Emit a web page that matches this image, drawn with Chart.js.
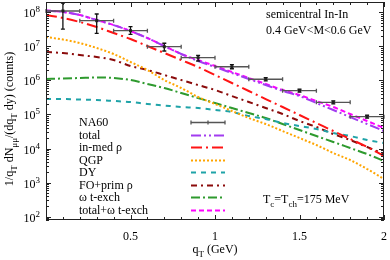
<!DOCTYPE html>
<html>
<head>
<meta charset="utf-8">
<script src="https://cdn.jsdelivr.net/npm/chart.js@4/dist/chart.umd.min.js"></script>
<style>
  html, body { margin: 0; padding: 0; background: #fff; }
</style>
</head>
<body>
<canvas id="qtChart" width="390" height="260"></canvas>
<script>
const FONT = '"Liberation Serif", "DejaVu Serif", serif';

const qT = [0, 0.1, 0.2, 0.3, 0.4, 0.5, 0.6, 0.7, 0.8, 0.9, 1.0, 1.1, 1.2, 1.3, 1.4, 1.5, 1.6, 1.7, 1.8, 1.9, 2.0];

const total = [1.13e8, 1.02e8, 8.3e7, 5.9e7, 4.2e7, 2.8e7, 1.75e7, 1.02e7, 5.95e6, 3.71e6, 2.47e6, 1.65e6, 1.10e6, 7.3e5, 4.9e5, 3.48e5, 2.17e5, 1.35e5, 8.4e4, 5.25e4, 3.27e4];
const inMedRho = [8.31e7, 6.78e7, 5.18e7, 3.69e7, 2.46e7, 1.64e7, 1.02e7, 6.37e6, 3.97e6, 2.47e6, 1.44e6, 8.39e5, 4.88e5, 2.84e5, 1.656e5, 9.65e4, 5.62e4, 3.27e4, 1.91e4, 1.11e4, 6.04e3];
const qgp = [1.878e7, 1.586e7, 1.252e7, 8.93e6, 5.95e6, 3.47e6, 2.02e6, 1.027e6, 5.98e5, 3.26e5, 2.03e5, 1.264e5, 7.88e4, 5.25e4, 3.27e4, 2.04e4, 1.27e4, 7.40e3, 4.61e3, 2.51e3, 1.276e3];
const drellYan = [2.84e5, 2.84e5, 2.75e5, 2.66e5, 2.49e5, 2.32e5, 2.03e5, 1.833e5, 1.656e5, 1.548e5, 1.353e5, 1.182e5, 9.02e4, 7.36e4, 5.62e4, 4.59e4, 3.75e4, 2.86e4, 2.33e4, 1.78e4, 1.454e4];
const foPrimRho = [6.81e6, 6.37e6, 5.56e6, 4.86e6, 3.97e6, 2.65e6, 2.02e6, 1.44e6, 1.027e6, 7.32e5, 5.23e5, 3.48e5, 2.32e5, 1.548e5, 1.032e5, 6.43e4, 4.29e4, 2.67e4, 1.78e4, 1.109e4, 6.91e3];
const omegaTExch = [1.099e6, 1.137e6, 1.176e6, 1.216e6, 1.176e6, 1.027e6, 7.84e5, 5.98e5, 4.27e5, 3.04e5, 2.17e5, 1.548e5, 1.104e5, 7.88e4, 5.25e4, 3.50e4, 2.33e4, 1.556e4, 1.037e4, 6.91e3, 4.31e3];
const totalOmega = [1.13e8, 1.02e8, 8.3e7, 5.93e7, 4.23e7, 2.82e7, 1.755e7, 1.02e7, 5.95e6, 3.97e6, 2.65e6, 1.76e6, 1.176e6, 7.84e5, 5.23e5, 3.73e5, 2.49e5, 1.656e5, 1.032e5, 6.43e4, 4.01e4];

// NA60 data with error bars
const na60X = [0.1, 0.3, 0.5, 0.7, 0.9, 1.1, 1.3, 1.5, 1.7, 1.9];
const na60XErr = [0.1, 0.1, 0.1, 0.1, 0.1, 0.1, 0.1, 0.1, 0.1, 0.1];
const na60Y = [1.09e8, 5.65e7, 2.88e7, 9.75e6, 4.64e6, 2.52e6, 1.08e6, 4.99e5, 2.28e5, 8.6e4];
const na60Low = [3.2e7, 2.4e7, 2.25e7, 7.3e6, 3.71e6, 2.2e6, 9.7e5, 4.5e5, 2.05e5, 7.8e4];
const na60High = [1.86e8, 8.9e7, 3.77e7, 1.23e7, 5.46e6, 2.89e6, 1.2e6, 5.5e5, 2.5e5, 9.5e4];

const legendLabels = ["NA60", "total", "in-med ρ", "QGP", "DY", "FO+prim ρ", "ω t-exch", "total+ω t-exch"];

function pts(ys) {
  return qT.map((x, i) => ({ x: x, y: ys[i] }));
}

function curve(label, ys, color, dash) {
  return {
    type: "line",
    label: label,
    data: pts(ys),
    borderColor: color,
    borderWidth: 2,
    borderDash: dash,
    pointRadius: 0,
    fill: false,
    cubicInterpolationMode: "monotone"
  };
}

// text with sub/superscripts
function drawRich(ctx, parts, x, y, size, align) {
  const small = Math.round(size * 0.72);
  let w = 0;
  for (const [t, k] of parts) {
    ctx.font = (k === "n" ? size : small) + "px " + FONT;
    w += ctx.measureText(t).width;
  }
  let cx = align === "right" ? x - w : align === "center" ? x - w / 2 : x;
  ctx.textAlign = "left";
  ctx.textBaseline = "alphabetic";
  for (const [t, k] of parts) {
    ctx.font = (k === "n" ? size : small) + "px " + FONT;
    const dy = k === "sub" ? size * 0.3 : k === "sup" ? -size * 0.42 : 0;
    ctx.fillText(t, cx, y + dy);
    cx += ctx.measureText(t).width;
  }
}

const errorBars = {
  id: "errorBars",
  afterDatasetsDraw(chart) {
    const ctx = chart.ctx;
    const xs = chart.scales.x, ys = chart.scales.y;
    ctx.save();
    ctx.lineWidth = 1.3;
    for (let i = 0; i < na60X.length; i++) {
      const px = xs.getPixelForValue(na60X[i]);
      const x0 = xs.getPixelForValue(na60X[i] - na60XErr[i]);
      const x1 = xs.getPixelForValue(na60X[i] + na60XErr[i]);
      const py = ys.getPixelForValue(na60Y[i]);
      const y0 = ys.getPixelForValue(na60Low[i]);
      const y1 = ys.getPixelForValue(na60High[i]);
      ctx.strokeStyle = "#555";
      ctx.beginPath();
      ctx.moveTo(x0, py); ctx.lineTo(x1, py);
      ctx.moveTo(x0, py - 2); ctx.lineTo(x0, py + 2);
      ctx.moveTo(x1, py - 2); ctx.lineTo(x1, py + 2);
      ctx.stroke();
      ctx.strokeStyle = "#111";
      ctx.beginPath();
      ctx.moveTo(px, y0); ctx.lineTo(px, y1);
      ctx.moveTo(px - 2, y0); ctx.lineTo(px + 2, y0);
      ctx.moveTo(px - 2, y1); ctx.lineTo(px + 2, y1);
      ctx.stroke();
      ctx.fillStyle = "#222";
      ctx.fillRect(px - 1.5, py - 1.5, 3, 3);
    }
    ctx.restore();
  }
};

const frameAndText = {
  id: "frameAndText",
  afterDraw(chart) {
    const ctx = chart.ctx;
    const a = chart.chartArea;
    const xs = chart.scales.x, ys = chart.scales.y;
    ctx.save();
    ctx.strokeStyle = "#222";
    ctx.lineWidth = 1;
    ctx.setLineDash([]);
    ctx.strokeRect(Math.round(a.left) + 0.5, Math.round(a.top) + 0.5, Math.round(a.right - a.left) - 1, Math.round(a.bottom - a.top) - 1);

    // inward ticks
    ctx.beginPath();
    for (let k = 0; k <= 20; k++) {
      const v = k / 10;
      const px = Math.round(xs.getPixelForValue(v)) + 0.5;
      const len = k % 5 === 0 ? 5 : 3;
      ctx.moveTo(px, a.bottom); ctx.lineTo(px, a.bottom - len);
      ctx.moveTo(px, a.top); ctx.lineTo(px, a.top + len);
    }
    for (let e = 1; e <= 8; e++) {
      for (let m = 1; m <= 9; m++) {
        const v = m * Math.pow(10, e);
        if (v < ys.min || v > ys.max) continue;
        const py = Math.round(ys.getPixelForValue(v)) + 0.5;
        const len = m === 1 ? 5 : 3;
        ctx.moveTo(a.left, py); ctx.lineTo(a.left + len, py);
        ctx.moveTo(a.right, py); ctx.lineTo(a.right - len, py);
      }
    }
    ctx.stroke();

    ctx.fillStyle = "#000";
    // y tick labels
    for (let e = 2; e <= 8; e++) {
      const py = ys.getPixelForValue(Math.pow(10, e));
      drawRich(ctx, [["10", "n"], [String(e), "sup"]], a.left - 6, py + 5, 12, "right");
    }

    // axis titles
    drawRich(ctx, [["q", "n"], ["T", "sub"], [" (GeV)", "n"]], (a.left + a.right) / 2, 253, 12, "center");
    ctx.save();
    ctx.translate(13, 119);
    ctx.rotate(-Math.PI / 2);
    drawRich(ctx, [["1/q", "n"], ["T", "sub"], [" dN", "n"], ["μμ", "sub"], ["/(dq", "n"], ["T", "sub"], [" dy) (counts)", "n"]], 0, 0, 12, "center");
    ctx.restore();

    // annotations
    drawRich(ctx, [["semicentral In-In", "n"]], 266, 18, 12, "left");
    drawRich(ctx, [["0.4 GeV<M<0.6 GeV", "n"]], 266, 34, 12, "left");
    drawRich(ctx, [["T", "n"], ["c", "sub"], ["=T", "n"], ["ch", "sub"], ["=175 MeV", "n"]], 263, 203, 12, "left");

    // legend
    const lx = 79, sx0 = 191, sx1 = 225;
    legendLabels.forEach((lab, i) => {
      const by = 126 + i * 12.5;
      const my = Math.round(by - 4) + 0.5;
      ctx.fillStyle = "#000";
      drawRich(ctx, [[lab, "n"]], lx, by, 12, "left");
      if (i === 0) {
        ctx.setLineDash([]);
        ctx.strokeStyle = "#555";
        ctx.lineWidth = 1.3;
        ctx.beginPath();
        ctx.moveTo(sx0, my); ctx.lineTo(sx1, my);
        ctx.moveTo(sx0, my - 2); ctx.lineTo(sx0, my + 2);
        ctx.moveTo(sx1, my - 2); ctx.lineTo(sx1, my + 2);
        ctx.moveTo((sx0 + sx1) / 2, my - 2); ctx.lineTo((sx0 + sx1) / 2, my + 2);
        ctx.stroke();
      } else {
        const ds = chart.data.datasets[i];
        ctx.setLineDash(ds.borderDash || []);
        ctx.strokeStyle = ds.borderColor;
        ctx.lineWidth = 2;
        ctx.beginPath();
        ctx.moveTo(sx0, my); ctx.lineTo(sx1, my);
        ctx.stroke();
      }
    });
    ctx.restore();
  }
};

new Chart("qtChart", {
  data: {
    datasets: [
      {
        type: "scatter",
        label: "NA60",
        data: na60X.map((x, i) => ({ x: x, y: na60Y[i] })),
        pointRadius: 0,
        showLine: false
      },
      curve("total", total, "#a23cf0", [10, 3, 2, 3, 2, 3]),
      curve("in-med ρ", inMedRho, "#ff1414", [11, 4, 2, 4]),
      curve("QGP", qgp, "#ffa500", [2, 2]),
      curve("DY", drellYan, "#1fa3a8", [5, 5]),
      curve("FO+prim ρ", foPrimRho, "#8b0b0b", [6, 4, 2, 4]),
      curve("ω t-exch", omegaTExch, "#2e9a2e", [9, 3, 2, 3]),
      curve("total+ω t-exch", totalOmega, "#ff00ff", [5, 3])
    ]
  },
  options: {
    responsive: false,
    animation: false,
    devicePixelRatio: 1,
    layout: { padding: { top: 2, right: 6, left: 0, bottom: 0 } },
    plugins: { legend: { display: false }, tooltip: { enabled: false } },
    scales: {
      x: {
        type: "linear",
        min: 0,
        max: 2,
        grid: { display: false, drawTicks: false },
        border: { display: false },
        ticks: {
          stepSize: 0.5,
          maxRotation: 0,
          padding: 10,
          color: "#000",
          font: { family: FONT, size: 12 },
          callback: v => (v === 0 ? "" : String(v))
        },
        afterFit: s => { s.height = 40; s.paddingLeft = 0; s.paddingRight = 0; }
      },
      y: {
        type: "logarithmic",
        min: 80,
        max: 2e8,
        grid: { display: false, drawTicks: false },
        border: { display: false },
        ticks: { display: false },
        afterFit: s => { s.width = 46; s.paddingTop = 0; s.paddingBottom = 0; }
      }
    }
  },
  plugins: [errorBars, frameAndText]
});
</script>
</body>
</html>
